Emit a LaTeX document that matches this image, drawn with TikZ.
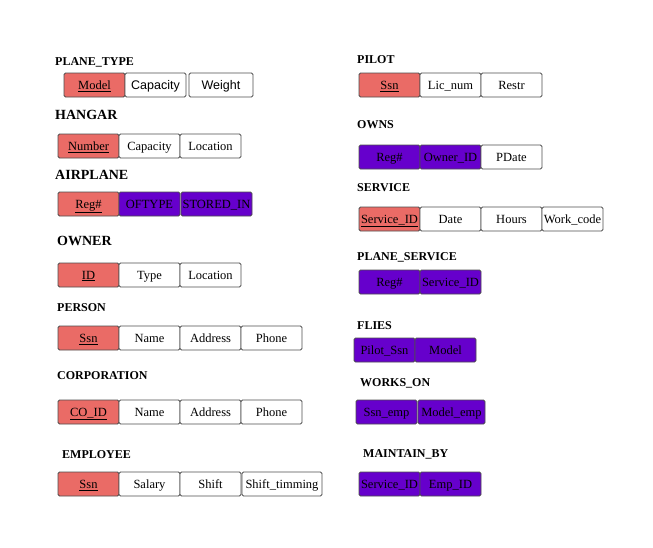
\documentclass[tikz,border=0pt]{standalone}
\usepackage{fontspec}
\setmainfont{Liberation Serif}
\newfontfamily\arialfont{Liberation Sans}
\definecolor{pkred}{HTML}{EA6B66}
\definecolor{fkpurple}{HTML}{6600CC}
\definecolor{boxline}{HTML}{4D4D4D}
\begin{document}
\begin{tikzpicture}[x=1pt,y=-1pt,
  title/.style={font=\bfseries\fontsize{12}{14}\selectfont, anchor=base west, inner sep=0pt},
  bigtitle/.style={font=\bfseries\fontsize{14}{16}\selectfont, anchor=base west, inner sep=0pt},
  box/.style={draw=boxline, line width=0.8pt, rounded corners=1.5pt, inner sep=0pt, outer sep=0pt,
    anchor=north west, minimum height=24pt, minimum width=61pt, text height=9.5pt, text depth=1pt,
    font=\fontsize{12.5}{14}\selectfont, text=black},
  pk/.style={box, fill=pkred},
  fk/.style={box, fill=fkpurple},
  att/.style={box, fill=white}
]
\useasboundingbox (0,0) rectangle (653,547);

% ---------------- left column ----------------
\node[title] (tPlaneType) at (55,65.5) {PLANE\_TYPE};
\node[pk]  (ptModel)    at (64,73)  {\underline{Model}};
\node[att, font=\arialfont\fontsize{12.5}{14}\selectfont] (ptCapacity) at (125,73) {Capacity};
\node[att, font=\arialfont\fontsize{12.5}{14}\selectfont, minimum width=64pt] (ptWeight) at (189,73) {Weight};

\node[bigtitle] (tHangar) at (55,119.5) {HANGAR};
\node[pk]  (hNumber)   at (58,134) {\underline{Number}};
\node[att] (hCapacity) at (119,134) {Capacity};
\node[att] (hLocation) at (180,134) {Location};

\node[bigtitle] (tAirplane) at (55,179.5) {AIRPLANE};
\node[pk] (aReg)      at (58,192)  {\underline{Reg\#}};
\node[fk] (aOftype)   at (119,192) {OFTYPE};
\node[fk, minimum width=71pt] (aStored) at (181,192) {STORED\_IN};

\node[bigtitle] (tOwner) at (57,245.5) {OWNER};
\node[pk]  (oID)       at (58,263)  {\underline{ID}};
\node[att] (oType)     at (119,263) {Type};
\node[att] (oLocation) at (180,263) {Location};

\node[title] (tPerson) at (57,311.5) {PERSON};
\node[pk]  (pSsn)     at (58,326)  {\underline{Ssn}};
\node[att] (pName)    at (119,326) {Name};
\node[att] (pAddress) at (180,326) {Address};
\node[att] (pPhone)   at (241,326) {Phone};

\node[title] (tCorp) at (57,379) {CORPORATION};
\node[pk]  (cID)      at (58,400)  {\underline{CO\_ID}};
\node[att] (cName)    at (119,400) {Name};
\node[att] (cAddress) at (180,400) {Address};
\node[att] (cPhone)   at (241,400) {Phone};

\node[title] (tEmployee) at (62,458) {EMPLOYEE};
\node[pk]  (eSsn)    at (58,472)  {\underline{Ssn}};
\node[att] (eSalary) at (119,472) {Salary};
\node[att] (eShift)  at (180,472) {Shift};
\node[att, minimum width=80pt] (eTiming) at (242,472) {Shift\_timming};

% ---------------- right column ----------------
\node[title] (tPilot) at (357,63) {PILOT};
\node[pk]  (plSsn)  at (359,73) {\underline{Ssn}};
\node[att] (plLic)  at (420,73) {Lic\_num};
\node[att] (plRestr) at (481,73) {Restr};

\node[title] (tOwns) at (357,128) {OWNS};
\node[fk]  (owReg)   at (359,145) {Reg\#};
\node[fk]  (owOwner) at (420,145) {Owner\_ID};
\node[att] (owDate)  at (481,145) {PDate};

\node[title] (tService) at (357,191.5) {SERVICE};
\node[pk]  (sID)    at (359,207) {\underline{Service\_ID}};
\node[att] (sDate)  at (420,207) {Date};
\node[att] (sHours) at (481,207) {Hours};
\node[att] (sWork)  at (542,207) {Work\_code};

\node[title] (tPlaneService) at (357,260.5) {PLANE\_SERVICE};
\node[fk] (psReg) at (359,270) {Reg\#};
\node[fk] (psID)  at (420,270) {Service\_ID};

\node[title] (tFlies) at (357,329) {FLIES};
\node[fk] (fPilot) at (354,338) {Pilot\_Ssn};
\node[fk] (fModel) at (415,338) {Model};

\node[title] (tWorksOn) at (360,386.5) {WORKS\_ON};
\node[fk] (wSsn)   at (356,400) {Ssn\_emp};
\node[fk, minimum width=67pt] (wModel) at (418,400) {Model\_emp};

\node[title] (tMaintain) at (363,457.5) {MAINTAIN\_BY};
\node[fk] (mService) at (359,472) {Service\_ID};
\node[fk] (mEmp)     at (420,472) {Emp\_ID};
\end{tikzpicture}
\end{document}
